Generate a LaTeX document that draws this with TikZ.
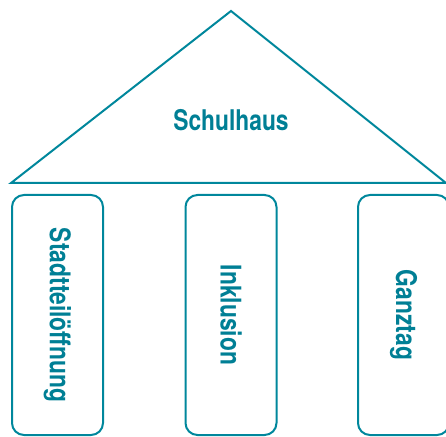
\documentclass[tikz,border=0pt]{standalone}
\usepackage{fontspec}
\setmainfont{TeX Gyre Heros}[FakeStretch=0.8]
\usepackage{tikz}
\usetikzlibrary{positioning,calc}
\definecolor{schulteal}{HTML}{00879C}
\definecolor{schultext}{HTML}{007F95}

\begin{document}
\begin{tikzpicture}[x=1pt, y=1pt, pillar/.style={draw=schulteal, line width=2pt, rounded corners=12pt, rotate=-90, minimum width=240pt, minimum height=91pt, inner sep=0pt, text=schultext, font=\fontsize{28.5}{32}\selectfont\bfseries}, roofline/.style={draw=schulteal, line width=2pt, line join=miter}, label/.style={text=schultext, font=\fontsize{28.5}{32}\selectfont\bfseries}]
\useasboundingbox (0,0) rectangle (446,436);
% roof
\coordinate (apex) at (231,425);
\coordinate (left) at (11,253);
\coordinate (right) at (446,253);
\draw[roofline] (left) -- (apex) -- (right) -- cycle;
\node[label] (roof) at (231,316) {Schulhaus};
% pillars
\node[pillar] (p0) at (57.5,121) {Stadtteilöffnung};
\node[pillar] (p1) at (231,121) {Inklusion};
\node[pillar] (p2) at (403.5,121) {Ganztag};
\end{tikzpicture}
\end{document}
